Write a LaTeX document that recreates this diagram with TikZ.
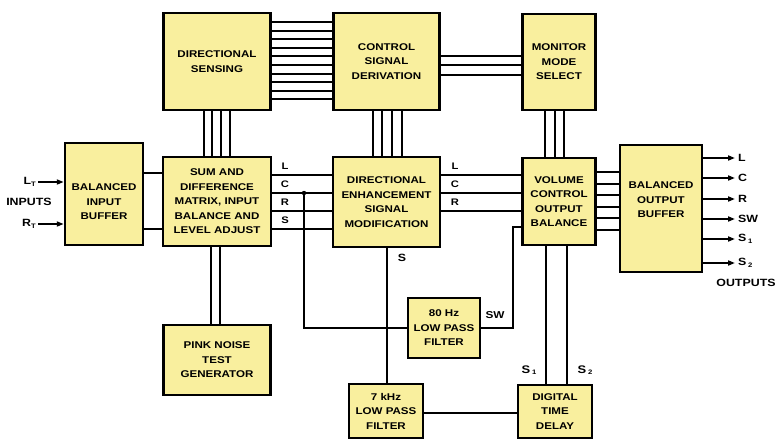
\documentclass[tikz,border=0pt]{standalone}
\usepackage{fontspec}
\setmainfont{Liberation Sans}[FakeStretch=1.18]
\usetikzlibrary{arrows.meta}
\definecolor{boxfill}{RGB}{249,239,158}
\newcommand\sbx[1]{\raisebox{-1.5pt}{\fontsize{6.5}{7}\selectfont #1}}
\begin{document}
\begin{tikzpicture}[x=1pt,y=-1pt,
  blk/.style={draw=black, line width=2.5pt, fill=boxfill, inner sep=0pt, align=center,
              font=\fontsize{9.8}{14.5}\selectfont\bfseries},
  btext/.style={inner sep=0pt, align=center, font=\fontsize{9.8}{14.5}\selectfont\bfseries},
  wire/.style={line width=2pt},
  arr/.style={wire, -{Triangle[length=7pt,width=5pt]}},
  lab/.style={inner sep=0pt, font=\fontsize{9.5}{10}\selectfont\bfseries},
  olab/.style={inner sep=0pt, anchor=west, font=\fontsize{10.5}{12}\selectfont\bfseries},
  ]
\useasboundingbox (0,0) rectangle (779,441);
\fill[white] (0,0) rectangle (779,441);

% blocks
\node[blk, minimum width=107pt, minimum height=97pt] (ds) at (217,61.5) {DIRECTIONAL\\SENSING};
\node[blk, minimum width=106pt, minimum height=97pt] (csd) at (386.5,61.5) {CONTROL\\SIGNAL\\DERIVATION};
\node[blk, minimum width=73pt, minimum height=96pt] (mms) at (559,62) {MONITOR\\MODE\\SELECT};
\node[blk, minimum width=78pt, minimum height=102pt] (bib) at (104,194) {};
\node[btext] (bibt) at (104,202) {BALANCED\\INPUT\\BUFFER};
\node[blk, minimum width=108pt, minimum height=89pt] (sd) at (217,201.5) {SUM AND\\DIFFERENCE\\MATRIX, INPUT\\BALANCE AND\\LEVEL ADJUST};
\node[blk, minimum width=107pt, minimum height=90pt] (desm) at (386.5,202) {DIRECTIONAL\\ENHANCEMENT\\SIGNAL\\MODIFICATION};
\node[blk, minimum width=73pt, minimum height=87pt] (vcob) at (559,201.5) {VOLUME\\CONTROL\\OUTPUT\\BALANCE};
\node[blk, minimum width=82pt, minimum height=127pt] (bob) at (661,208.5) {};
\node[btext] (bobt) at (661,200) {BALANCED\\OUTPUT\\BUFFER};
\node[blk, minimum width=107pt, minimum height=70pt] (pn) at (217,360) {PINK NOISE\\TEST\\GENERATOR};
\node[blk, minimum width=72pt, minimum height=60pt] (lpa) at (444,328) {80 Hz\\LOW PASS\\FILTER};
\node[blk, minimum width=74pt, minimum height=54pt] (lpb) at (386,411) {7 kHz\\LOW PASS\\FILTER};
\node[blk, minimum width=74pt, minimum height=53pt] (dtd) at (555,411.5) {DIGITAL\\TIME\\DELAY};

% bundles top row
\foreach \i in {0,...,9} {
  \coordinate (t) at (0,{22+8.6*\i});
  \draw[wire] (ds.east |- t) -- (csd.west |- t);
}
\foreach \y in {56,65,75} {
  \coordinate (t) at (0,\y);
  \draw[wire] (csd.east |- t) -- (mms.west |- t);
}
% vertical bundles
\foreach \x in {203.5,211.5,220.5,230} {
  \coordinate (t) at (\x,0);
  \draw[wire] (ds.south -| t) -- (sd.north -| t);
}
\foreach \x in {373,382,392,402} {
  \coordinate (t) at (\x,0);
  \draw[wire] (csd.south -| t) -- (desm.north -| t);
}
\foreach \x in {545,555,564} {
  \coordinate (t) at (\x,0);
  \draw[wire] (mms.south -| t) -- (vcob.north -| t);
}
\foreach \x in {211,220} {
  \coordinate (t) at (\x,0);
  \draw[wire] (sd.south -| t) -- (pn.north -| t);
}
% input buffer to matrix
\foreach \y in {173,229} {
  \coordinate (t) at (0,\y);
  \draw[wire] (bib.east |- t) -- (sd.west |- t);
}
% matrix to enhancement
\foreach \y/\l in {175/L,193/C,211/R,229/S} {
  \coordinate (t) at (0,\y);
  \draw[wire] (sd.east |- t) -- (desm.west |- t);
  \node[lab] (m\l) at (285,\y-9) {\l};
}
% enhancement to volume
\foreach \y/\l in {175/L,193/C,211/R} {
  \coordinate (t) at (0,\y);
  \draw[wire] (desm.east |- t) -- (vcob.west |- t);
  \node[lab] (e\l) at (455,\y-9) {\l};
}
% volume to output buffer
\foreach \y in {172,183.5,195,206.5,218,229.5} {
  \coordinate (t) at (0,\y);
  \draw[wire] (vcob.east |- t) -- (bob.west |- t);
}
% C branch to 80 Hz filter
\coordinate (jc) at (304,193);
\fill (jc) circle (2.2pt);
\draw[wire] (jc) |- (lpa.west);
% SW to volume
\coordinate (swc) at (513,227);
\draw[wire] (lpa.east) -| (swc) -- (vcob.west |- swc);
\node[lab, font=\fontsize{10}{10}\selectfont\bfseries] (swl) at (495,315) {SW};
% S to 7 kHz filter
\coordinate (sx) at (387,0);
\draw[wire] (desm.south -| sx) -- (lpb.north -| sx);
\node[lab, font=\fontsize{10.5}{10}\selectfont\bfseries] (sl) at (402,258) {S};
% 7 kHz to delay
\coordinate (t) at (0,413);
\draw[wire] (lpb.east |- t) -- (dtd.west |- t);
% delay to volume
\foreach \x in {546,567} {
  \coordinate (t) at (\x,0);
  \draw[wire] (vcob.south -| t) -- (dtd.north -| t);
}
\node[lab, font=\fontsize{11}{12}\selectfont\bfseries] (s1) at (529,370) {S\,\sbx{1}};
\node[lab, font=\fontsize{11}{12}\selectfont\bfseries] (s2) at (585,370) {S\,\sbx{2}};

% inputs
\coordinate (lt) at (38,182);
\coordinate (rt) at (38,224);
\draw[arr] (lt) -- (bib.west |- lt);
\draw[arr] (rt) -- (bib.west |- rt);
\node[olab, anchor=east] (ltl) at (36,182) {L\sbx{T}};
\node[olab, anchor=east] (rtl) at (36,224) {R\sbx{T}};
\node[olab, anchor=center] (inl) at (29,202) {INPUTS};

% outputs
\foreach \y/\t/\n in {158/L/oa,178/C/ob,199/R/oc,219/SW/od,239/{S\,\sbx{1}}/oe,263/{S\,\sbx{2}}/of} {
  \coordinate (t) at (735,\y);
  \draw[arr] (bob.east |- t) -- (t);
  \node[olab] (\n) at (738,\y) {\t};
}
\node[olab, anchor=center] (outl) at (746,283) {OUTPUTS};
\end{tikzpicture}
\end{document}
